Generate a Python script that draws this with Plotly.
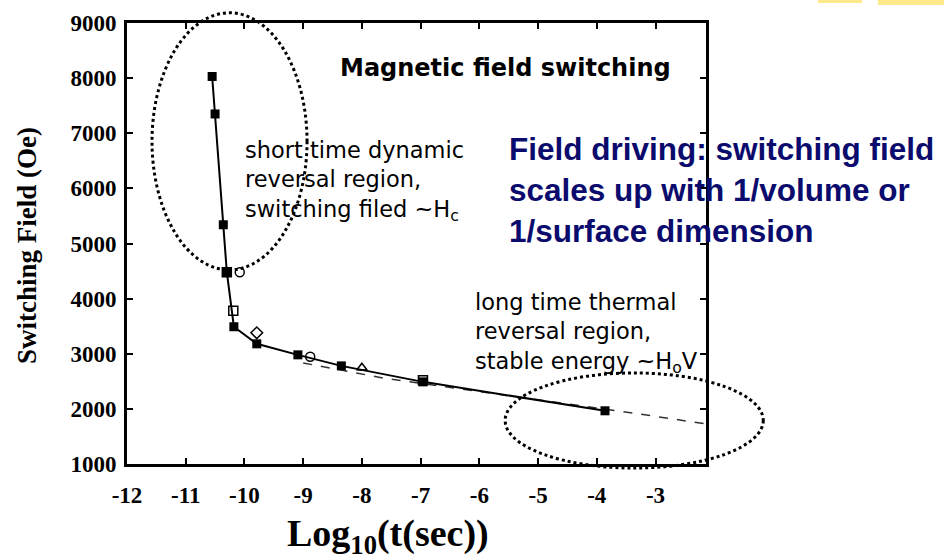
import plotly.graph_objects as go

# ---- data ----
sq_x = [-10.55, -10.50, -10.36, -10.30, -10.18, -9.79, -9.09, -8.35, -6.96, -3.86]
sq_y = [8030, 7350, 5340, 4480, 3490, 3180, 2980, 2780, 2490, 1965]

open_x = [-10.30, -10.08, -10.19, -9.79, -8.88, -8.00, -6.96]
open_y = [4480, 4480, 3780, 3380, 2945, 2745, 2520]
open_sym = ["square-open", "circle-open", "square-open", "diamond-open",
            "circle-open", "triangle-up-open", "square-open"]

fit_x = [-9.0, -7.64, -5.36, -3.38, -2.14]
fit_y = [2833, 2560, 2216, 1925, 1726]

x_ticks = [-12, -11, -10, -9, -8, -7, -6, -5, -4, -3]
y_ticks = [1000, 2000, 3000, 4000, 5000, 6000, 7000, 8000, 9000]

XR = [-12, -2.14]
YR = [1000, 9000]

# ellipses (data coords): x0, x1, y0, y1
ell_left = [-11.574, -8.934, 4521, 9185]
ell_right = [-5.56, -1.165, 927, 2652]

W, H = 944, 560
ML, MR, MT, MB = 127, 238, 23, 96
PW, PH = W - ML - MR, H - MT - MB


def dx(x):
    return (x - XR[0]) / (XR[1] - XR[0])


def dy(y):
    return (y - YR[0]) / (YR[1] - YR[0])


def ppx(p):
    return (p - ML) / PW


def ppy(p):
    return (MT + PH - p) / PH


fig = go.Figure()

fig.add_trace(go.Scatter(x=fit_x, y=fit_y, mode="lines",
                         line=dict(color="#333333", width=1.5, dash="dash"),
                         showlegend=False))
fig.add_trace(go.Scatter(x=sq_x, y=sq_y, mode="lines+markers",
                         line=dict(color="black", width=2),
                         marker=dict(symbol="square", size=9, color="black"),
                         showlegend=False))
fig.add_trace(go.Scatter(x=open_x, y=open_y, mode="markers",
                         marker=dict(symbol=open_sym, size=9, color="black",
                                     line=dict(color="black", width=1.5)),
                         showlegend=False))

shapes = []
for e in (ell_left, ell_right):
    shapes.append(dict(type="circle", xref="paper", yref="paper",
                       x0=dx(e[0]), x1=dx(e[1]), y0=dy(e[2]), y1=dy(e[3]),
                       line=dict(color="black", width=3, dash="dot"),
                       layer="above"))
# small yellow marks at the top right corner
shapes.append(dict(type="rect", xref="paper", yref="paper",
                   x0=ppx(818), x1=ppx(862), y0=ppy(3), y1=ppy(-2),
                   fillcolor="#fde98a", line=dict(width=0)))
shapes.append(dict(type="rect", xref="paper", yref="paper",
                   x0=ppx(878), x1=ppx(944), y0=ppy(5), y1=ppy(-2),
                   fillcolor="#fde98a", line=dict(width=0)))

black_font = dict(family="DejaVu Sans", size=22.5, color="black")
annotations = [
    dict(text="<b>Magnetic field switching</b>", x=ppx(338), y=ppy(68),
         xanchor="left", yanchor="middle",
         font=dict(family="DejaVu Sans", size=24, color="black")),
    dict(text="short time dynamic<br>reversal region,<br>switching filed ~H<sub>c</sub>",
         x=ppx(243), y=ppy(181), xanchor="left", yanchor="middle", align="left",
         font=black_font),
    dict(text="long time thermal<br>reversal region,<br>stable energy ~H<sub>o</sub>V",
         x=ppx(473), y=ppy(333), xanchor="left", yanchor="middle", align="left",
         font=black_font),
    dict(text="<b>Field driving: switching field<br>scales up with 1/volume or<br>1/surface dimension</b>",
         x=ppx(507), y=ppy(190), xanchor="left", yanchor="middle", align="left",
         font=dict(family="Liberation Sans", size=31.5, color="#0b0b6e")),
    dict(text="<b>Switching Field (Oe)</b>", x=ppx(27), y=ppy(246),
         xanchor="center", yanchor="middle", textangle=-90,
         font=dict(family="Liberation Serif", size=27, color="black")),
    dict(text="<b>Log<sub>10</sub>(t(sec))</b>", x=ppx(388), y=ppy(536),
         xanchor="center", yanchor="middle",
         font=dict(family="Liberation Serif", size=38, color="black")),
]
for a in annotations:
    a.update(xref="paper", yref="paper", showarrow=False)

tick_font = dict(family="Liberation Serif", size=23, color="black", weight="bold")
fig.update_layout(
    width=W, height=H,
    margin=dict(l=ML, r=MR, t=MT, b=MB, autoexpand=False),
    paper_bgcolor="white", plot_bgcolor="white",
    shapes=shapes, annotations=annotations,
    xaxis=dict(range=XR, tickvals=x_ticks, ticktext=[str(v) for v in x_ticks],
               showgrid=False, zeroline=False, showline=True, linecolor="black",
               linewidth=3, mirror="ticks", ticks="inside", ticklen=6,
               tickwidth=1.5, tickcolor="black", tickfont=tick_font,
               ticklabelstandoff=8),
    yaxis=dict(range=YR, tickvals=y_ticks, ticktext=[str(v) for v in y_ticks],
               showgrid=False, zeroline=False, showline=True, linecolor="black",
               linewidth=3, mirror="ticks", ticks="inside", ticklen=6,
               tickwidth=1.5, tickcolor="black", tickfont=tick_font,
               ticklabelstandoff=3),
)

fig.write_html("out.html")
